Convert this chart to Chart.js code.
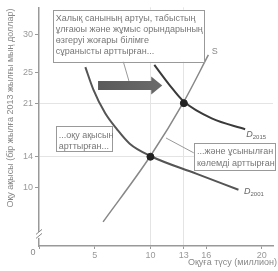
<!DOCTYPE html>
<html>
<head>
<meta charset="utf-8">
<script src="https://cdn.jsdelivr.net/npm/chart.js@4/dist/chart.umd.min.js"></script>
<style>
html,body{margin:0;padding:0;background:#fff;}
canvas{display:block;}
</style>
</head>
<body>
<canvas id="c" width="278" height="271"></canvas>
<script>
// ---- data ----
const supplyX = [5.75, 10, 13, 15.2];
const supplyY = [5.5, 14.1, 21.2, 27.3];
const d2001X = [4.16, 4.87, 5.93, 6.99, 8.14, 10, 14.1, 17.9];
const d2001Y = [25.7, 22.8, 19.7, 17.6, 15.7, 14.1, 11.8, 9.7];
const d2015X = [10.35, 11.7, 13, 15.5, 18.5];
const d2015Y = [26.0, 23.4, 21.2, 19.0, 17.6];
const eqX = [10, 13];
const eqY = [14, 21];
const xTickValues = [0, 5, 10, 13, 15, 20];
const xTickLabels = ["", "5", "10", "13", "16", "20"];
const yTickValues = [10, 14, 21, 25, 30];
const yTickLabels = ["10", "14", "21", "25", "30"];
const xGridValues = [10, 13];
const yGridValues = [14, 21];

const FONT = "'Liberation Sans', Arial, sans-serif";
const pts = (xs, ys) => xs.map((x, i) => ({x: x, y: ys[i]}));

const annot = {
  id: 'annot',
  afterDatasetsDraw(chart) {
    const ctx = chart.ctx;
    const xs = chart.scales.x, ys = chart.scales.y;
    const px = v => xs.getPixelForValue(v), py = v => ys.getPixelForValue(v);
    ctx.save();
    // axis break
    const bx = px(0), by = py(3.8);
    ctx.fillStyle = '#fff';
    ctx.fillRect(bx - 4, by - 3, 8, 6);
    ctx.strokeStyle = '#888'; ctx.lineWidth = 1;
    ctx.beginPath();
    ctx.moveTo(bx - 3, by - 0.5); ctx.lineTo(bx + 3, by - 5.5);
    ctx.moveTo(bx - 3, by + 3.5); ctx.lineTo(bx + 3, by - 1.5);
    ctx.stroke();

    // leader lines
    ctx.strokeStyle = '#999'; ctx.lineWidth = 1;
    ctx.beginPath();
    ctx.moveTo(px(7.52), py(26.65)); ctx.lineTo(px(8.14), py(23.55));
    ctx.moveTo(px(11.4), py(16.45)); ctx.lineTo(px(13.9), py(14.5));
    ctx.stroke();

    // arrow
    const ax1 = px(5.3), ax2 = px(11.06), ay = py(23.3);
    const g = ctx.createLinearGradient(ax1, 0, ax2, 0);
    g.addColorStop(0, '#5a5a5a'); g.addColorStop(1, '#6a6a6a');
    ctx.fillStyle = g;
    ctx.beginPath();
    ctx.moveTo(ax1, ay - 4.5);
    ctx.lineTo(ax2 - 11, ay - 4.5);
    ctx.lineTo(ax2 - 11, ay - 9);
    ctx.lineTo(ax2, ay);
    ctx.lineTo(ax2 - 11, ay + 9);
    ctx.lineTo(ax2 - 11, ay + 4.5);
    ctx.lineTo(ax1, ay + 4.5);
    ctx.closePath();
    ctx.fill();

    // boxes
    const box = (x1, y1, x2, y2, lines, lh) => {
      const l = px(x1), t = py(y1), r = px(x2), b = py(y2);
      ctx.fillStyle = '#fff';
      ctx.fillRect(l, t, r - l, b - t);
      ctx.strokeStyle = '#999'; ctx.lineWidth = 1;
      ctx.strokeRect(Math.round(l) + 0.5, Math.round(t) + 0.5, Math.round(r - l), Math.round(b - t));
      ctx.fillStyle = '#777';
      ctx.font = '9px ' + FONT;
      ctx.textAlign = 'left'; ctx.textBaseline = 'middle';
      lines.forEach((s, i) => ctx.fillText(s, l + 3, t + 9 + i * lh));
    };
    box(1.24, 33.2, 14.8, 26.4, ["Халық санының артуы, табыстың", "ұлғаюы және жұмыс орындарының", "өзгеруі жоғары білімге", "сұранысты арттырған..."], 11);
    box(1.5, 18.0, 6.55, 14.8, ["...оқу ақысын", "арттырған..."], 11.5);
    box(13.9, 15.8, 21.15, 12.3, ["...және ұсынылған", "көлемді арттырған"], 11.5);

    // curve labels
    ctx.fillStyle = '#666';
    ctx.textBaseline = 'alphabetic';
    ctx.textAlign = 'left';
    const dlab = (x, y, sub) => {
      ctx.font = 'italic 9px ' + FONT;
      ctx.fillText('D', px(x), py(y));
      const w = ctx.measureText('D').width;
      ctx.font = '6px ' + FONT;
      ctx.fillText(sub, px(x) + w, py(y) + 2);
    };
    dlab(18.6, 16.6, '2015');
    dlab(18.4, 9.1, '2001');
    ctx.font = '9px ' + FONT;
    ctx.fillStyle = '#888';
    ctx.fillText('S', px(15.5), py(27.4));
    ctx.restore();
  },
  afterDraw(chart) {
    const ctx = chart.ctx;
    const xs = chart.scales.x, ys = chart.scales.y;
    ctx.save();
    ctx.fillStyle = '#888';
    ctx.font = '9px ' + FONT;
    // origin label
    ctx.textAlign = 'center'; ctx.textBaseline = 'middle';
    ctx.fillText('0', xs.getPixelForValue(0) - 6, ys.bottom + 7);
    // x title
    ctx.textAlign = 'right';
    ctx.fillText('Оқуға түсу (миллион)', chart.width - 1, 263);
    // y title
    ctx.translate(11, 108);
    ctx.rotate(-Math.PI / 2);
    ctx.textAlign = 'center';
    ctx.fillText('Оқу ақысы (бір жылға 2013 жылғы мың доллар)', 0, 0);
    ctx.restore();
  }
};

new Chart(document.getElementById('c'), {
  type: 'line',
  data: {
    datasets: [
      { data: pts(eqX, eqY), showLine: false, pointRadius: 3.5, pointBackgroundColor: '#222', pointBorderColor: '#222', order: 0 },
      { data: pts(d2015X, d2015Y), borderColor: '#3a3a3a', borderWidth: 2, pointRadius: 0, cubicInterpolationMode: 'monotone', order: 1 },
      { data: pts(d2001X, d2001Y), borderColor: '#555', borderWidth: 2, pointRadius: 0, cubicInterpolationMode: 'monotone', order: 1 },
      { data: pts(supplyX, supplyY), borderColor: '#888', borderWidth: 1.5, pointRadius: 0, cubicInterpolationMode: 'monotone', order: 1 }
    ]
  },
  options: {
    responsive: false,
    devicePixelRatio: 1,
    animation: false,
    events: [],
    layout: { padding: { top: 5, right: 3, left: 0, bottom: 0 } },
    plugins: { legend: { display: false }, tooltip: { enabled: false } },
    scales: {
      x: {
        type: 'linear', min: 0, max: 21,
        afterBuildTicks: s => { s.ticks = xTickValues.map(v => ({value: v})); },
        afterFit: s => { s.height = 25; },
        ticks: {
          color: '#999', font: { size: 9, family: FONT }, padding: 1, autoSkip: false, maxRotation: 0,
          callback: v => { const i = xTickValues.indexOf(v); return i >= 0 ? xTickLabels[i] : ''; }
        },
        grid: {
          color: c => xGridValues.includes(c.tick && c.tick.value) ? '#e4e4e4' : 'rgba(0,0,0,0)',
          tickColor: '#999', tickLength: 3, lineWidth: 1
        },
        border: { color: '#999', width: 1.5 }
      },
      y: {
        type: 'linear', min: 2.35, max: 33.5,
        afterBuildTicks: s => { s.ticks = yTickValues.map(v => ({value: v})); },
        afterFit: s => { s.width = 39; },
        ticks: {
          color: '#999', font: { size: 9, family: FONT }, padding: 2, autoSkip: false,
          callback: v => { const i = yTickValues.indexOf(v); return i >= 0 ? yTickLabels[i] : ''; }
        },
        grid: {
          color: c => yGridValues.includes(c.tick && c.tick.value) ? '#e4e4e4' : 'rgba(0,0,0,0)',
          tickColor: '#999', tickLength: 4, lineWidth: 1
        },
        border: { color: '#999', width: 1.5 }
      }
    }
  },
  plugins: [annot]
});
</script>
</body>
</html>
